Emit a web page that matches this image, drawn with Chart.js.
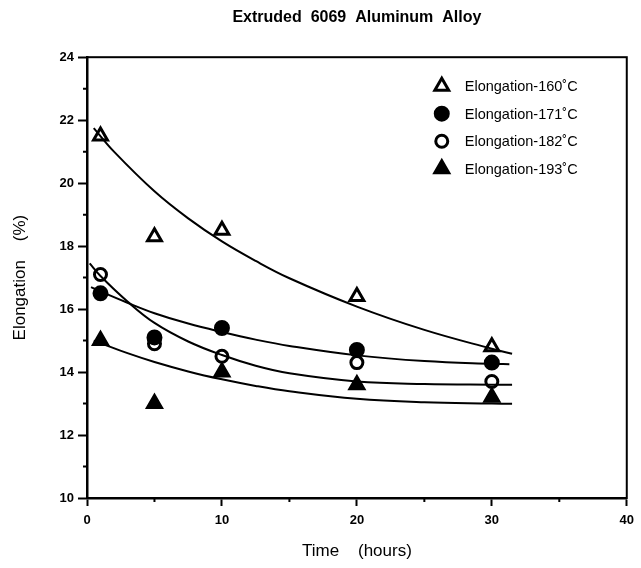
<!DOCTYPE html>
<html>
<head>
<meta charset="utf-8">
<title>Extruded 6069 Aluminum Alloy</title>
<script src="https://cdn.jsdelivr.net/npm/chart.js@4/dist/chart.umd.min.js"></script>
<style>
	body { margin: 0; background: #fff; }
	#wrap { width: 641px; height: 568px; }
</style>
</head>
<body>
<div id="wrap"><canvas id="elongChart"></canvas></div>
<script>
// measured points
var times = [1, 5, 10, 20, 30];
var elong160 = [21.5, 18.3, 18.5, 16.4, 14.8];
var elong171 = [16.5, 15.1, 15.4, 14.7, 14.3];
var elong182 = [17.1, 14.9, 14.5, 14.3, 13.7];
var elong193 = [15.0, 13.0, 14.0, 13.6, 13.2];

// fitted curves
var fit160X = [0.5, 2, 5, 7.5, 10, 12.5, 15, 20, 25, 30, 31.5];
var fit160Y = [21.75, 21.0, 19.74, 18.88, 18.15, 17.53, 16.98, 16.08, 15.34, 14.74, 14.58];
var fit171X = [0.3, 1, 3, 5, 7.5, 10, 12.5, 15, 20, 25, 30, 31.3];
var fit171Y = [16.7, 16.56, 16.2, 15.87, 15.54, 15.27, 15.03, 14.83, 14.53, 14.35, 14.26, 14.25];
var fit182X = [0.2, 1, 3, 5, 7.5, 10, 12.5, 15, 20, 25, 30, 31.5];
var fit182Y = [17.45, 17.05, 16.24, 15.56, 14.97, 14.54, 14.2, 13.96, 13.7, 13.62, 13.6, 13.6];
var fit193X = [0.5, 1, 3, 5, 7.5, 10, 12.5, 15, 20, 25, 30, 31.5];
var fit193Y = [15.0, 14.92, 14.6, 14.32, 14.02, 13.77, 13.56, 13.39, 13.15, 13.04, 13.0, 12.99];

var xTicks = [0, 10, 20, 30, 40];
var yTicks = [10, 12, 14, 16, 18, 20, 22, 24];
var xMinor = [5, 15, 25, 35];
var yMinor = [11, 13, 15, 17, 19, 21, 23];

var legendLabels = ['Elongation-160\u02daC', 'Elongation-171\u02daC', 'Elongation-182\u02daC', 'Elongation-193\u02daC'];

var FONT = "'Liberation Sans', Arial, Helvetica, sans-serif";

function pts(xs, ys) {
	return xs.map(function (x, i) { return { x: x, y: ys[i] }; });
}

function markerSet(label, values, style, fill, radius) {
	return {
		type: 'scatter',
		label: label,
		data: pts(times, values),
		pointStyle: style,
		pointRadius: radius,
		pointBorderWidth: 3,
		pointBorderColor: '#000',
		pointBackgroundColor: fill,
		isMarker: true
	};
}

function curveSet(xs, ys) {
	return {
		type: 'line',
		data: pts(xs, ys),
		borderColor: '#000',
		borderWidth: 2,
		pointRadius: 0,
		fill: false,
		tension: 0.4
	};
}

var frameAndLegend = {
	id: 'frameAndLegend',
	afterDatasetsDraw: function (chart) {
		var ctx = chart.ctx;
		var a = chart.chartArea;
		var xs = chart.scales.x, ys = chart.scales.y;
		ctx.save();
		// box
		ctx.strokeStyle = '#000';
		ctx.lineWidth = 2;
		ctx.strokeRect(a.left, a.top, a.right - a.left, a.bottom - a.top);
		// minor ticks
		ctx.beginPath();
		yMinor.forEach(function (v) {
			var p = ys.getPixelForValue(v);
			ctx.moveTo(a.left - 4, p);
			ctx.lineTo(a.left, p);
		});
		xMinor.forEach(function (v) {
			var p = xs.getPixelForValue(v);
			ctx.moveTo(p, a.bottom);
			ctx.lineTo(p, a.bottom + 4);
		});
		ctx.stroke();
		// legend
		var markers = chart.data.datasets.filter(function (d) { return d.isMarker; });
		ctx.font = '14.5px ' + FONT;
		ctx.textBaseline = 'middle';
		markers.forEach(function (d, i) {
			var y = a.top + 29 + i * 27.5;
			var x = a.right - 185;
			ctx.fillStyle = d.pointBackgroundColor;
			ctx.strokeStyle = '#000';
			ctx.lineWidth = 3;
			Chart.helpers.drawPoint(ctx, { pointStyle: d.pointStyle, radius: d.pointRadius, borderWidth: 3, rotation: 0 }, x, y);
			ctx.fillStyle = '#000';
			ctx.fillText(legendLabels[i], a.right - 162, y + 1);
		});
		ctx.restore();
	}
};

new Chart(document.getElementById('elongChart'), {
	data: {
		datasets: [
			curveSet(fit160X, fit160Y),
			curveSet(fit171X, fit171Y),
			curveSet(fit182X, fit182Y),
			curveSet(fit193X, fit193Y),
			markerSet(legendLabels[0], elong160, 'triangle', '#fff', 8),
			markerSet(legendLabels[1], elong171, 'circle', '#000', 6.5),
			markerSet(legendLabels[2], elong182, 'circle', '#fff', 6),
			markerSet(legendLabels[3], elong193, 'triangle', '#000', 8)
		]
	},
	options: {
		responsive: true,
		maintainAspectRatio: false,
		animation: false,
		layout: { padding: { top: 0, right: 9, bottom: 0, left: 0 } },
		plugins: {
			legend: { display: false },
			tooltip: { enabled: false },
			title: {
				display: true,
				fullSize: false,
				text: 'Extruded  6069  Aluminum  Alloy',
				color: '#000',
				font: { family: FONT, size: 16, weight: 'bold' },
				padding: { top: 8, bottom: 30 }
			}
		},
		scales: {
			x: {
				type: 'linear',
				min: 0,
				max: 40,
				afterBuildTicks: function (s) { s.ticks = xTicks.map(function (v) { return { value: v }; }); },
				afterFit: function (s) { s.height = 70; },
				border: { display: true, color: '#000', width: 2.5 },
				grid: { drawOnChartArea: false, drawTicks: true, tickLength: 8, tickWidth: 2, tickColor: '#000' },
				ticks: { color: '#000', padding: 7, font: { family: FONT, size: 13, weight: 'bold' } },
				title: { display: true, text: 'Time    (hours)', color: '#000', font: { family: FONT, size: 17 }, padding: { top: 0, bottom: 6 } }
			},
			y: {
				type: 'linear',
				min: 10,
				max: 24,
				afterBuildTicks: function (s) { s.ticks = yTicks.map(function (v) { return { value: v }; }); },
				afterFit: function (s) { s.width = 87; },
				border: { display: true, color: '#000', width: 2.5 },
				grid: { drawOnChartArea: false, drawTicks: true, tickLength: 9, tickWidth: 2, tickColor: '#000' },
				ticks: { color: '#000', padding: 4, font: { family: FONT, size: 13, weight: 'bold' } },
				title: { display: true, text: 'Elongation    (%)', color: '#000', font: { family: FONT, size: 17 }, padding: { top: 10, bottom: 0 } }
			}
		}
	},
	plugins: [frameAndLegend]
});
</script>
</body>
</html>
